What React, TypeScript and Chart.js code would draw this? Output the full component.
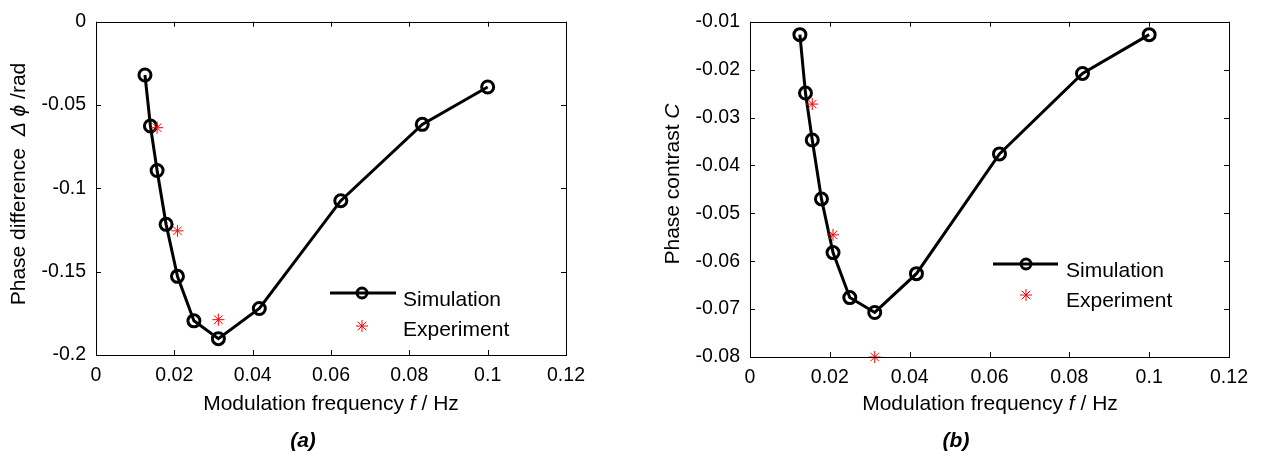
import React, { useEffect, useRef } from 'react';
import { Chart, registerables } from 'chart.js';

Chart.register(...registerables);

// ---------------- data ----------------
const freq = [0.0125, 0.0139, 0.0156, 0.0179, 0.0208, 0.025, 0.03125, 0.0417, 0.0625, 0.0833, 0.1];
const simA = [-0.032, -0.0626, -0.0893, -0.1216, -0.1528, -0.1795, -0.1902, -0.1721, -0.1074, -0.0616, -0.0392];
const simB = [-0.0127, -0.0249, -0.0347, -0.047, -0.0582, -0.0676, -0.0707, -0.0626, -0.0376, -0.0208, -0.0127];

const expFreq = [0.0156, 0.0208, 0.03125];
const expA = [-0.0636, -0.1255, -0.1788];
const expB = [-0.0272, -0.0545, -0.08];

const xTicks = [0, 0.02, 0.04, 0.06, 0.08, 0.1, 0.12];
const xTickLabels = ['0', '0.02', '0.04', '0.06', '0.08', '0.1', '0.12'];
const yTicksA = [-0.2, -0.15, -0.1, -0.05, 0];
const yTickLabelsA = ['-0.2', '-0.15', '-0.1', '-0.05', '0'];
const yTicksB = [-0.08, -0.07, -0.06, -0.05, -0.04, -0.03, -0.02, -0.01];
const yTickLabelsB = ['-0.08', '-0.07', '-0.06', '-0.05', '-0.04', '-0.03', '-0.02', '-0.01'];

const seriesNames = ['Simulation', 'Experiment'];

// ---------------- style ----------------
const FAMILY = '"Liberation Sans", Arial, Helvetica, sans-serif';
const TICK_SIZE = 19.5;
const TITLE_SIZE = 21;
const LEGEND_SIZE = 21;
const CIRCLE_R = 6;
const CIRCLE_W = 3;
const STAR_R = 6;

type Seg = { t: string; style?: string; weight?: string };

function drawRich(ctx: CanvasRenderingContext2D, segs: Seg[], x: number, y: number, size: number, rotate: boolean) {
  ctx.save();
  ctx.translate(x, y);
  if (rotate) ctx.rotate(-Math.PI / 2);
  const fontOf = (s: Seg) => `${s.style || 'normal'} ${s.weight || 'normal'} ${size}px ${FAMILY}`;
  let total = 0;
  const widths = segs.map((s) => {
    ctx.font = fontOf(s);
    const w = ctx.measureText(s.t).width;
    total += w;
    return w;
  });
  let cx = -total / 2;
  ctx.textBaseline = 'middle';
  ctx.textAlign = 'left';
  ctx.fillStyle = '#000';
  segs.forEach((s, i) => {
    ctx.font = fontOf(s);
    ctx.fillText(s.t, cx, 0);
    cx += widths[i];
  });
  ctx.restore();
}

function drawStar(ctx: CanvasRenderingContext2D, x: number, y: number, r: number) {
  ctx.save();
  ctx.strokeStyle = '#ff0000';
  ctx.lineWidth = 1;
  ctx.beginPath();
  ctx.moveTo(x - r, y); ctx.lineTo(x + r, y);
  ctx.moveTo(x, y - r); ctx.lineTo(x, y + r);
  const d = r * Math.SQRT1_2;
  ctx.moveTo(x - d, y - d); ctx.lineTo(x + d, y + d);
  ctx.moveTo(x - d, y + d); ctx.lineTo(x + d, y - d);
  ctx.stroke();
  ctx.restore();
}

type Panel = {
  left: number;
  width: number;
  height: number;
  area: { left: number; right: number; top: number; bottom: number };
  sim: number[];
  exp: number[];
  yMin: number;
  yMax: number;
  yTicks: number[];
  yTickLabels: string[];
  yTitle: Seg[];
  yTitlePos: [number, number];
  xTitlePos: [number, number];
  label: string;
  labelPos: [number, number];
  legend: { x0: number; x1: number; mx: number; y1: number; tx: number; b1: number; y2: number; b2: number };
};

const xTitle: Seg[] = [{ t: 'Modulation frequency ' }, { t: 'f', style: 'italic' }, { t: ' / Hz' }];

const panels: Panel[] = [
  {
    left: 0,
    width: 630,
    height: 456,
    area: { left: 96, right: 566, top: 13, bottom: 355 },
    sim: simA,
    exp: expA,
    yMin: -0.2,
    yMax: 0,
    yTicks: yTicksA,
    yTickLabels: yTickLabelsA,
    yTitle: [{ t: 'Phase difference  ' }, { t: 'Δ', style: 'italic' }, { t: ' ' }, { t: 'ϕ', style: 'italic' }, { t: ' /rad' }],
    yTitlePos: [19, 184],
    xTitlePos: [331, 404],
    label: '(a)',
    labelPos: [303, 441],
    legend: { x0: 330, x1: 396, mx: 362, y1: 293, tx: 403, b1: 306, y2: 326, b2: 336 },
  },
  {
    left: 630,
    width: 631,
    height: 456,
    area: { left: 120, right: 599, top: 12, bottom: 357 },
    sim: simB,
    exp: expB,
    yMin: -0.08,
    yMax: -0.01,
    yTicks: yTicksB,
    yTickLabels: yTickLabelsB,
    yTitle: [{ t: 'Phase contrast ' }, { t: 'C', style: 'italic' }],
    yTitlePos: [43, 184],
    xTitlePos: [360, 404],
    label: '(b)',
    labelPos: [326, 441],
    legend: { x0: 363, x1: 428, mx: 396, y1: 264, tx: 436, b1: 277, y2: 295, b2: 307 },
  },
];

function makeChart(canvas: HTMLCanvasElement, p: Panel) {
  const decorPlugin = {
    id: 'decor' + p.label,
    afterDraw(chart: any) {
      const ctx: CanvasRenderingContext2D = chart.ctx;
      const a = chart.chartArea;
      const xs = chart.scales.x;
      const ys = chart.scales.y;
      ctx.save();
      ctx.strokeStyle = '#000';
      ctx.lineWidth = 1;
      ctx.strokeRect(Math.round(a.left) + 0.5, Math.round(a.top) + 0.5, Math.round(a.right - a.left), Math.round(a.bottom - a.top));
      const tl = 5;
      ctx.beginPath();
      xTicks.forEach((v) => {
        const px = Math.round(xs.getPixelForValue(v)) + 0.5;
        ctx.moveTo(px, a.bottom); ctx.lineTo(px, a.bottom - tl);
        ctx.moveTo(px, a.top); ctx.lineTo(px, a.top + tl);
      });
      p.yTicks.forEach((v) => {
        const py = Math.round(ys.getPixelForValue(v)) + 0.5;
        ctx.moveTo(a.left, py); ctx.lineTo(a.left + tl, py);
        ctx.moveTo(a.right, py); ctx.lineTo(a.right - tl, py);
      });
      ctx.stroke();
      ctx.restore();

      drawRich(ctx, p.yTitle, p.yTitlePos[0], p.yTitlePos[1], TITLE_SIZE, true);
      drawRich(ctx, xTitle, p.xTitlePos[0], p.xTitlePos[1], TITLE_SIZE, false);
      drawRich(ctx, [{ t: p.label, style: 'italic', weight: 'bold' }], p.labelPos[0], p.labelPos[1], TITLE_SIZE, false);

      // legend
      const L = p.legend;
      ctx.save();
      ctx.strokeStyle = '#000';
      ctx.lineWidth = 3;
      ctx.beginPath();
      ctx.moveTo(L.x0, L.y1); ctx.lineTo(L.x1, L.y1);
      ctx.stroke();
      ctx.beginPath();
      ctx.arc(L.mx, L.y1, 5, 0, Math.PI * 2);
      ctx.stroke();
      ctx.restore();
      drawStar(ctx, L.mx, L.y2, STAR_R);
      ctx.save();
      ctx.fillStyle = '#000';
      ctx.font = `${LEGEND_SIZE}px ${FAMILY}`;
      ctx.textAlign = 'left';
      ctx.textBaseline = 'alphabetic';
      ctx.fillText(seriesNames[0], L.tx, L.b1);
      ctx.fillText(seriesNames[1], L.tx, L.b2);
      ctx.restore();
    },
  };

  return new Chart(canvas, {
    type: 'scatter',
    data: {
      datasets: [
        {
          label: seriesNames[1],
          data: expFreq.map((x, i) => ({ x, y: p.exp[i] })),
          showLine: false,
          pointStyle: 'star',
          radius: STAR_R,
          borderColor: '#ff0000',
          backgroundColor: '#ff0000',
          borderWidth: 1,
          clip: false,
          order: 0,
        } as any,
        {
          label: seriesNames[0],
          data: freq.map((x, i) => ({ x, y: p.sim[i] })),
          showLine: true,
          borderColor: '#000',
          borderWidth: 3,
          pointStyle: 'circle',
          radius: CIRCLE_R,
          pointBorderWidth: CIRCLE_W,
          pointBorderColor: '#000',
          pointBackgroundColor: 'rgba(0,0,0,0)',
          backgroundColor: 'rgba(0,0,0,0)',
          clip: false,
          order: 1,
        } as any,
      ],
    },
    options: {
      responsive: false,
      animation: false,
      devicePixelRatio: 1,
      layout: {
        padding: {
          left: 0,
          top: p.area.top,
          right: p.width - p.area.right,
          bottom: 0,
        },
      },
      plugins: {
        legend: { display: false },
        tooltip: { enabled: false },
        title: { display: false },
      },
      scales: {
        x: {
          type: 'linear',
          min: 0,
          max: 0.12,
          grid: { display: false, drawTicks: false },
          border: { display: false },
          afterBuildTicks: (s: any) => {
            s.ticks = xTicks.map((v) => ({ value: v }));
          },
          afterFit: (s: any) => {
            s.height = p.height - p.area.bottom;
          },
          ticks: {
            padding: 9,
            color: '#000',
            font: { family: FAMILY, size: TICK_SIZE },
            maxRotation: 0,
            autoSkip: false,
            callback: (v: any) => {
              const i = xTicks.findIndex((t) => Math.abs(t - Number(v)) < 1e-9);
              return i >= 0 ? xTickLabels[i] : '';
            },
          },
        },
        y: {
          type: 'linear',
          min: p.yMin,
          max: p.yMax,
          grid: { display: false, drawTicks: false },
          border: { display: false },
          afterBuildTicks: (s: any) => {
            s.ticks = p.yTicks.map((v) => ({ value: v }));
          },
          afterFit: (s: any) => {
            s.width = p.area.left;
          },
          ticks: {
            padding: 10,
            color: '#000',
            font: { family: FAMILY, size: TICK_SIZE },
            autoSkip: false,
            callback: (v: any) => {
              const i = p.yTicks.findIndex((t) => Math.abs(t - Number(v)) < 1e-9);
              return i >= 0 ? p.yTickLabels[i] : '';
            },
          },
        },
      },
    } as any,
    plugins: [decorPlugin],
  });
}

function PanelChart({ p }: { p: Panel }) {
  const ref = useRef<HTMLCanvasElement | null>(null);
  useEffect(() => {
    if (!ref.current) return;
    const chart = makeChart(ref.current, p);
    return () => chart.destroy();
  }, [p]);
  return (
    <canvas
      ref={ref}
      width={p.width}
      height={p.height}
      style={{ position: 'absolute', left: p.left, top: 0, width: p.width, height: p.height, display: 'block' }}
    />
  );
}

export default function App() {
  return (
    <div style={{ position: 'absolute', left: 0, top: 0, width: 1261, height: 456, background: '#fff', overflow: 'hidden' }}>
      {panels.map((p) => (
        <PanelChart key={p.label} p={p} />
      ))}
    </div>
  );
}
